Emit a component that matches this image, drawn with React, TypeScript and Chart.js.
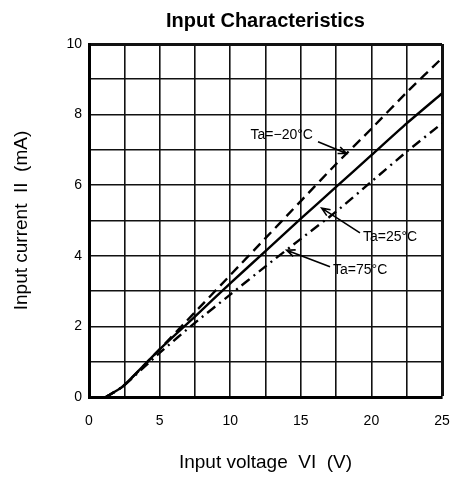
import React, { useEffect, useRef } from 'react';
import { Chart, registerables } from 'chart.js';

Chart.register(...registerables);

// Input voltage VI (V)
const voltage = [1.2, 2.4, 5, 7.5, 10, 12.5, 15, 17.5, 20, 22.5, 25];
// Input current II (mA) per ambient temperature
const currentMinus20 = [0, 0.3, 1.35, 2.4, 3.45, 4.5, 5.55, 6.6, 7.6, 8.63, 9.6];
const current25 = [0, 0.3, 1.35, 2.28, 3.22, 4.13, 5.05, 5.95, 6.85, 7.75, 8.6];
const current75 = [0, 0.3, 1.25, 2.1, 2.9, 3.7, 4.48, 5.25, 6.1, 6.95, 7.75];
const seriesLabels = ['Ta=\u221220\u00b0C', 'Ta=25\u00b0C', 'Ta=75\u00b0C'];
const xTickLabels = ['0', '5', '10', '15', '20', '25'];
const yTickLabels = ['0', '2', '4', '6', '8', '10'];

const FONT = "'Liberation Sans', Arial, sans-serif";

// label callouts, in data units
const callouts = [
  { text: seriesLabels[0], tx: 15.86, ty: 7.42, align: 'right', from: [16.22, 7.23], to: [18.24, 6.9] },
  { text: seriesLabels[1], tx: 19.4, ty: 4.53, align: 'left', from: [19.19, 4.65], to: [16.48, 5.35] },
  { text: seriesLabels[2], tx: 17.28, ty: 3.58, align: 'left', from: [17.07, 3.69], to: [14.0, 4.16] },
];

const calloutPlugin = {
  id: 'callouts',
  afterDatasetsDraw(chart: any) {
    const { ctx } = chart;
    const xs = chart.scales.x;
    const ys = chart.scales.y;
    ctx.save();
    ctx.fillStyle = '#000';
    ctx.strokeStyle = '#000';
    ctx.font = `14px ${FONT}`;
    ctx.textBaseline = 'middle';
    for (const c of callouts) {
      ctx.textAlign = c.align;
      ctx.fillText(c.text, xs.getPixelForValue(c.tx), ys.getPixelForValue(c.ty));
      const x0 = xs.getPixelForValue(c.from[0]);
      const y0 = ys.getPixelForValue(c.from[1]);
      const x1 = xs.getPixelForValue(c.to[0]);
      const y1 = ys.getPixelForValue(c.to[1]);
      ctx.lineWidth = 1.6;
      ctx.beginPath();
      ctx.moveTo(x0, y0);
      ctx.lineTo(x1, y1);
      const ang = Math.atan2(y1 - y0, x1 - x0);
      const L = 9;
      ctx.moveTo(x1 - L * Math.cos(ang - 0.4), y1 - L * Math.sin(ang - 0.4));
      ctx.lineTo(x1, y1);
      ctx.lineTo(x1 - L * Math.cos(ang + 0.4), y1 - L * Math.sin(ang + 0.4));
      ctx.stroke();
    }
    ctx.restore();
  },
};

export default function App() {
  const ref = useRef<HTMLCanvasElement | null>(null);

  useEffect(() => {
    if (!ref.current) return;
    const mk = (vals: number[]) => voltage.map((v, i) => ({ x: v, y: vals[i] }));
    const chart = new Chart(ref.current, {
      type: 'line',
      data: {
        datasets: [
          { label: seriesLabels[0], data: mk(currentMinus20), borderColor: '#000', borderWidth: 2.4, borderDash: [10, 6], pointRadius: 0, tension: 0.2 },
          { label: seriesLabels[1], data: mk(current25), borderColor: '#000', borderWidth: 2.4, pointRadius: 0, tension: 0.2 },
          { label: seriesLabels[2], data: mk(current75), borderColor: '#000', borderWidth: 2.4, borderDash: [10, 5, 2, 5], pointRadius: 0, tension: 0.2 },
        ],
      },
      options: {
        responsive: false,
        animation: false,
        devicePixelRatio: 1,
        layout: { padding: { left: 0, right: 9, top: 0, bottom: 0 } },
        plugins: {
          legend: { display: false },
          tooltip: { enabled: false },
          title: {
            display: true,
            text: 'Input Characteristics',
            color: '#000',
            fullSize: false,
            font: { family: FONT, size: 20, weight: 'bold', lineHeight: 1.2 },
            padding: { top: 9, bottom: 11 },
          },
        },
        scales: {
          x: {
            type: 'linear',
            min: 0,
            max: 25,
            afterFit: (s: any) => { s.height = 83; s.paddingLeft = 0; s.paddingRight = 0; },
            ticks: {
              stepSize: 2.5,
              color: '#000',
              padding: 16,
              font: { family: FONT, size: 14 },
              autoSkip: false,
              maxRotation: 0,
              callback: (v: any) => (xTickLabels.includes(String(v)) ? String(v) : ''),
            },
            grid: {
              color: '#111',
              lineWidth: (c: any) => (c.tick && c.tick.value === 25 ? 3 : 1.6),
              drawTicks: false,
            },
            border: { color: '#000', width: 3 },
            title: {
              display: true,
              text: 'Input voltage  VI  (V)',
              color: '#000',
              font: { family: FONT, size: 19, lineHeight: 1.2 },
              padding: { top: 0, bottom: 5.6 },
            },
          },
          y: {
            type: 'linear',
            min: 0,
            max: 10,
            afterFit: (s: any) => { s.width = 89; s.paddingTop = 0; s.paddingBottom = 0; },
            ticks: {
              stepSize: 1,
              color: '#000',
              padding: 7,
              font: { family: FONT, size: 14 },
              autoSkip: false,
              callback: (v: any) => (yTickLabels.includes(String(v)) ? String(v) : ''),
            },
            grid: {
              color: '#111',
              lineWidth: (c: any) => (c.tick && c.tick.value === 10 ? 3 : 1.6),
              drawTicks: false,
            },
            border: { color: '#000', width: 3 },
            title: {
              display: true,
              text: 'Input current  II  (mA)',
              color: '#000',
              font: { family: FONT, size: 19, lineHeight: 1.2 },
              padding: { top: 10.6, bottom: 0 },
            },
          },
        },
      },
      plugins: [calloutPlugin],
    } as any);
    return () => chart.destroy();
  }, []);

  return (
    <div style={{ position: 'absolute', left: 0, top: 0, width: 451, height: 480, background: '#fff' }}>
      <canvas ref={ref} width={451} height={480} />
    </div>
  );
}
